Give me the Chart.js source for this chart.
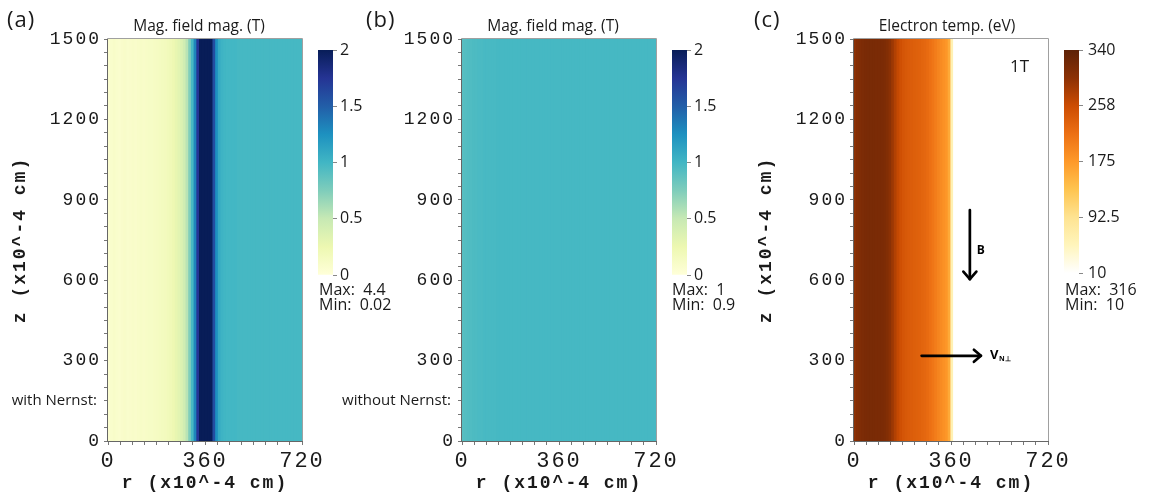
<!DOCTYPE html>
<html><head><meta charset="utf-8">
<script src="https://cdn.jsdelivr.net/npm/chart.js@4.4.1/dist/chart.umd.min.js"></script>
<style>
html,body{margin:0;padding:0;background:#fff;}
#wrap{position:relative;width:1155px;height:495px;overflow:hidden;background:#fff;}
canvas{position:absolute;left:0;top:0;}
.t{position:absolute;white-space:pre;font-family:"Open Sans",sans-serif;color:#1a1a1a;line-height:1;}
.c{transform:translateX(-50%);}
.r{transform:translateX(-100%);}
</style></head><body>
<div id="wrap">
<canvas id="heatA" width="1155" height="495"></canvas>
<canvas id="heatB" width="1155" height="495"></canvas>
<canvas id="heatC" width="1155" height="495"></canvas>
<canvas id="barA" width="1155" height="495"></canvas>
<canvas id="barB" width="1155" height="495"></canvas>
<canvas id="barC" width="1155" height="495"></canvas>

<div class="t" style="left:7px;top:7px;font-size:22px;letter-spacing:1px;">(a)</div>
<div class="t" style="left:366px;top:7px;font-size:22px;letter-spacing:1px;">(b)</div>
<div class="t" style="left:754px;top:7px;font-size:22px;letter-spacing:1px;">(c)</div>

<div class="t c" style="left:199px;top:17.5px;font-size:15.5px;">Mag. field mag. (T)</div>
<div class="t c" style="left:553px;top:17.5px;font-size:15.5px;">Mag. field mag. (T)</div>
<div class="t c" style="left:947px;top:17.5px;font-size:15.5px;">Electron temp. (eV)</div>

<div class="t r" style="left:97px;top:392px;font-size:15px;">with Nernst:</div>
<div class="t r" style="left:451px;top:392px;font-size:15px;">without Nernst:</div>

<div class="t" style="left:319px;top:281px;font-size:16px;">Max:  4.4</div>
<div class="t" style="left:319px;top:296px;font-size:16px;">Min:  0.02</div>
<div class="t" style="left:672px;top:281px;font-size:16px;">Max:  1</div>
<div class="t" style="left:672px;top:296px;font-size:16px;">Min:  0.9</div>
<div class="t" style="left:1065px;top:281px;font-size:16px;">Max:  316</div>
<div class="t" style="left:1065px;top:296px;font-size:16px;">Min:  10</div>

<div class="t" style="left:1010px;top:57px;font-size:17px;">1T</div>
</div>

<script>
// ---------------- data ----------------
const rCenters = [5,15,25,35,45,55,65,75,85,95,105,115,125,135,145,155,165,175,185,195,
  205,215,225,235,245,255,265,275,285,295,305,315,325,335,345,355,365,375,385,395,
  405,415,425,435,445,455,465,475,485,495,505,515,525,535,545,555,565,575,585,595,
  605,615,625,635,645,655,665,675,685,695,705,715];
const zExtent = [0, 1500];

const bWithNernst = [0.06,0.08,0.10,0.08,0.07,0.09,0.10,0.08,0.09,0.10,
  0.09,0.10,0.11,0.10,0.11,0.12,0.12,0.13,0.14,0.15,
  0.16,0.17,0.19,0.21,0.24,0.28,0.32,0.37,0.44,0.55,
  0.75,0.97,1.30,1.75,2.40,3.50,4.20,3.60,2.40,1.60,
  1.25,1.07,1.02,1.00,0.99,0.99,0.99,0.99,0.98,0.98,
  0.98,0.98,0.98,0.98,0.98,0.98,0.98,0.98,0.98,0.98,
  0.98,0.98,0.98,0.98,0.98,0.98,0.98,0.98,0.98,0.98,
  0.98,0.98];

const bWithoutNernst = [0.91,0.92,0.93,0.94,0.95,0.95,0.96,0.96,0.97,0.97,
  0.97,0.97,0.97,0.98,0.98,0.98,0.98,0.98,0.98,0.98,
  0.98,0.98,0.98,0.98,0.98,0.98,0.98,0.98,0.98,0.98,
  0.98,0.98,0.98,0.98,0.98,0.98,0.98,0.98,0.98,0.98,
  0.98,0.98,0.98,0.98,0.98,0.98,0.98,0.98,0.98,0.98,
  0.98,0.98,0.98,0.98,0.98,0.98,0.98,0.98,0.98,0.98,
  0.98,0.98,0.98,0.98,0.98,0.98,0.98,0.98,0.98,0.98,
  0.98,0.98];

const teOneTesla = [300,306,310,313,315,316,316,316,315,315,
  314,312,308,300,288,274,262,253,247,243,
  240,238,236,234,232,229,226,222,216,210,
  203,196,189,183,177,160,60,10,10,10,
  10,10,10,10,10,10,10,10,10,10,
  10,10,10,10,10,10,10,10,10,10,
  10,10,10,10,10,10,10,10,10,10,
  10,10];

const rTickLabels = [0, 360, 720];
const zTickLabels = [0, 300, 600, 900, 1200, 1500];
const bBarTicks = [0, 0.5, 1, 1.5, 2];
const bBarTickLabels = ['0', '0.5', '1', '1.5', '2'];
const teBarTicks = [10, 92.5, 175, 257.5, 340];
const teBarTickLabels = ['10', '92.5', '175', '258', '340'];

// annotation anchors (data coordinates r, z)
const arrowB = {r: 430, zFrom: 862, zTo: 604, labelR: 456, labelZ: 709};
const arrowV = {z: 318, rFrom: 251, rTo: 471, labelR: 505};

// ---------------- styles ----------------
const ylgnbu = ['#ffffd9','#edf8b1','#c7e9b4','#7fcdbb','#41b6c4','#1d91c0','#225ea8','#253494','#081d58'];
const ylorbr = ['#ffffff','#fff5bc','#fee391','#fec44f','#fe9929','#ec7014','#cc4c02','#8c3105','#5e2207'];
const MONO = '"Liberation Mono","DejaVu Sans Mono",monospace';
const SANS = '"Open Sans","Noto Sans",sans-serif';

function hex2rgb(h){return [parseInt(h.slice(1,3),16),parseInt(h.slice(3,5),16),parseInt(h.slice(5,7),16)];}
function cmap(stops, vmin, vmax, v){
  let t = (v - vmin) / (vmax - vmin); t = Math.max(0, Math.min(1, t));
  const f = t * (stops.length - 1);
  const i = Math.min(Math.floor(f), stops.length - 2);
  const u = f - i;
  const a = hex2rgb(stops[i]), b = hex2rgb(stops[i+1]);
  return 'rgb(' + a.map((x,k)=>Math.round(x + (b[k]-x)*u)).join(',') + ')';
}
function zeroPads(s){ s.paddingTop=0; s.paddingBottom=0; s.paddingLeft=0; s.paddingRight=0; }

const monoSpacing = {id:'monoSpacing', beforeDraw(chart){ chart.ctx.letterSpacing = '2px'; }};
const frame = {id:'frame', afterDatasetsDraw(chart){
  const {ctx, chartArea:a} = chart;
  ctx.save();
  ctx.lineWidth = 1;
  ctx.strokeStyle = '#a0a0a0';
  ctx.beginPath();
  ctx.moveTo(a.left, a.top - 0.5); ctx.lineTo(a.right + 0.5, a.top - 0.5);
  ctx.lineTo(a.right + 0.5, a.bottom);
  ctx.stroke();
  ctx.strokeStyle = '#666';
  ctx.beginPath();
  ctx.moveTo(a.left - 0.5, a.top - 0.5); ctx.lineTo(a.left - 0.5, a.bottom + 0.5);
  ctx.lineTo(a.right + 1, a.bottom + 0.5);
  ctx.stroke();
  ctx.restore();
}};

const arrows = {id:'arrows', afterDatasetsDraw(chart){
  const {ctx, scales:{x, y}} = chart;
  ctx.save();
  ctx.letterSpacing = '0px';
  ctx.strokeStyle = '#000'; ctx.fillStyle = '#000';
  ctx.lineWidth = 2.7; ctx.lineCap = 'round'; ctx.lineJoin = 'round';
  const bx = x.getPixelForValue(arrowB.r);
  const by1 = y.getPixelForValue(arrowB.zFrom), by2 = y.getPixelForValue(arrowB.zTo);
  ctx.beginPath(); ctx.moveTo(bx, by1); ctx.lineTo(bx, by2); ctx.stroke();
  ctx.beginPath(); ctx.moveTo(bx - 6.5, by2 - 7.5); ctx.lineTo(bx, by2); ctx.lineTo(bx + 6.5, by2 - 7.5); ctx.stroke();
  const vy = y.getPixelForValue(arrowV.z);
  const vx1 = x.getPixelForValue(arrowV.rFrom), vx2 = x.getPixelForValue(arrowV.rTo);
  ctx.beginPath(); ctx.moveTo(vx1, vy); ctx.lineTo(vx2, vy); ctx.stroke();
  ctx.beginPath(); ctx.moveTo(vx2 - 7, vy - 6); ctx.lineTo(vx2, vy); ctx.lineTo(vx2 - 7, vy + 6); ctx.stroke();
  ctx.textBaseline = 'middle'; ctx.textAlign = 'left';
  ctx.font = 'bold 12px ' + SANS;
  ctx.fillText('B', x.getPixelForValue(arrowB.labelR), y.getPixelForValue(arrowB.labelZ));
  const lx = x.getPixelForValue(arrowV.labelR);
  ctx.font = 'bold 13px ' + SANS;
  ctx.fillText('V', lx, vy);
  ctx.font = 'bold 7px ' + SANS;
  ctx.fillText('N\u22A5', lx + 9, vy + 3);
  ctx.restore();
}};

function heatmap(id, values, stops, vmin, vmax, plotLeft, showYTitle, extra){
  const axisW = 98, plotW = 194;
  return new Chart(document.getElementById(id), {
    type: 'bar',
    data: { datasets: [{
      data: rCenters.map(r => ({x: r, y: zExtent.slice()})),
      backgroundColor: values.map(v => cmap(stops, vmin, vmax, v)),
      borderWidth: 0, inflateAmount: 0.6, barPercentage: 1, categoryPercentage: 1, grouped: false
    }]},
    options: {
      responsive: false, animation: false, events: [],
      layout: {padding: {left: plotLeft - axisW, right: 1155 - (plotLeft + plotW), top: 39, bottom: 1}},
      plugins: {legend: {display: false}, tooltip: {enabled: false}, title: {display: false}},
      scales: {
        x: {
          type: 'linear', min: 0, max: 720, offset: false,
          grid: {drawOnChartArea: false, offset: false, tickLength: 4, color: '#777'},
          border: {display: false},
          ticks: {stepSize: 45, maxTicksLimit: 100, autoSkip: false, maxRotation: 0, minRotation: 0, padding: 3,
                  color: '#1a1a1a', font: {family: MONO, size: 22},
                  callback: v => rTickLabels.includes(v) ? String(v) : ''},
          title: {display: true, text: 'r (x10^-4 cm)', color: '#1a1a1a', padding: 0,
                  font: {family: MONO, size: 18, weight: 'bold'}},
          afterFit: s => { s.height = 53; zeroPads(s); }
        },
        y: {
          type: 'linear', min: 0, max: 1500,
          grid: {drawOnChartArea: false, tickLength: 4, color: '#777'},
          border: {display: false},
          ticks: {stepSize: 50, maxTicksLimit: 100, autoSkip: false, padding: 3,
                  color: '#1a1a1a', font: {family: MONO, size: 18},
                  callback: v => zTickLabels.includes(v) ? String(v) : ''},
          title: {display: showYTitle, text: 'z (x10^-4 cm)', color: '#1a1a1a', padding: 0,
                  font: {family: MONO, size: 18, weight: 'bold'}},
          afterFit: s => { s.width = axisW; zeroPads(s); }
        }
      }
    },
    plugins: [monoSpacing, frame].concat(extra || [])
  });
}

function colorbar(id, stops, vmin, vmax, ticks, labels, barLeft, barTop, barBottom, labelPad){
  const barW = 15, axisW = 50;
  return new Chart(document.getElementById(id), {
    type: 'bar',
    data: { labels: [''], datasets: [{
      data: [[vmin, vmax]],
      backgroundColor: (c) => {
        const ch = c.chart, ys = ch.scales.y;
        if (!ch.chartArea || !ys) return stops[0];
        const g = ch.ctx.createLinearGradient(0, ys.getPixelForValue(vmin), 0, ys.getPixelForValue(vmax));
        stops.forEach((col, i) => g.addColorStop(i / (stops.length - 1), col));
        return g;
      },
      borderWidth: 0, barPercentage: 1, categoryPercentage: 1
    }]},
    options: {
      responsive: false, animation: false, events: [],
      layout: {padding: {left: barLeft, right: 1155 - barLeft - barW - axisW, top: barTop, bottom: 495 - barBottom}},
      plugins: {legend: {display: false}, tooltip: {enabled: false}},
      scales: {
        x: {display: false, afterFit: s => { s.height = 0; zeroPads(s); }},
        y: {
          position: 'right', min: vmin, max: vmax,
          afterBuildTicks: s => { s.ticks = ticks.map(v => ({value: v})); },
          grid: {drawOnChartArea: false, tickLength: 4, color: '#888'},
          border: {display: false},
          ticks: {autoSkip: false, padding: labelPad, color: '#1a1a1a', font: {family: SANS, size: 16},
                  callback: (v, i) => labels[i]},
          afterFit: s => { s.width = axisW; zeroPads(s); }
        }
      }
    }
  });
}

heatmap('heatA', bWithNernst, ylgnbu, 0, 2, 108, true);
heatmap('heatB', bWithoutNernst, ylgnbu, 0, 2, 462, false);
heatmap('heatC', teOneTesla, ylorbr, 10, 340, 854, true, [arrows]);

colorbar('barA', ylgnbu, 0, 2, bBarTicks, bBarTickLabels, 318, 50, 275, 3);
colorbar('barB', ylgnbu, 0, 2, bBarTicks, bBarTickLabels, 672, 50, 275, 3);
colorbar('barC', ylorbr, 10, 340, teBarTicks, teBarTickLabels, 1064, 50, 273, 5);
</script>
</body></html>
